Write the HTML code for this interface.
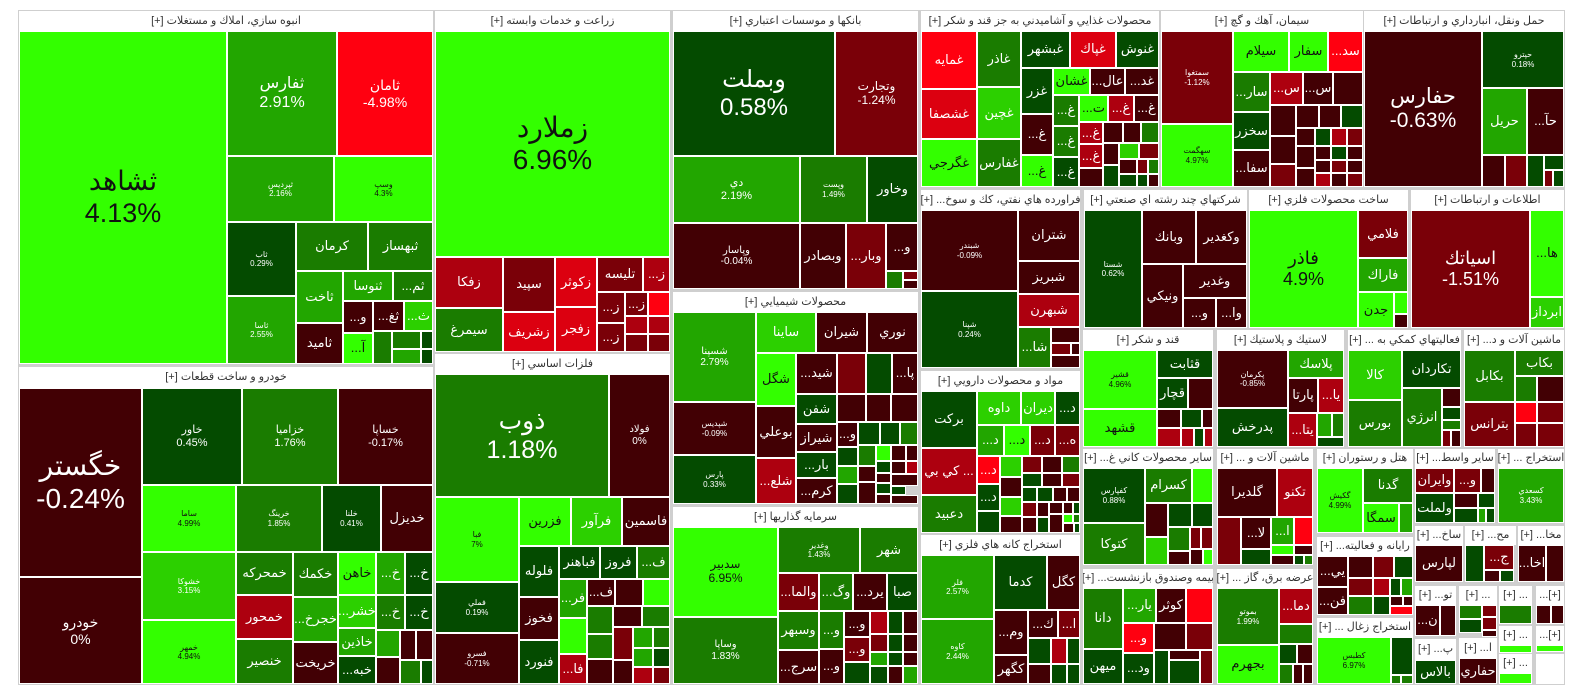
<!DOCTYPE html>
<html><head><meta charset="utf-8">
<style>
html,body{margin:0;padding:0;background:#fff;width:1584px;height:698px;overflow:hidden}
body{position:relative;font-family:"Liberation Sans","DejaVu Sans",sans-serif}
.bg{position:absolute;left:18px;top:10px;width:1547px;height:675px;background:#cfcfcf}
.c,.h{position:absolute;box-sizing:border-box;display:flex;align-items:center;justify-content:center;text-align:center;overflow:hidden;white-space:nowrap;line-height:1.15}
.c{border:1px solid #fff;color:#fff;font-size:13px}
.h{background:#fff;color:#333;font-size:11px;direction:rtl}
.g1{background:#33ff00;color:#111}.g2{background:#22a600}.g2b{background:#2cd000}.g3{background:#1a7c00}.g4{background:#044b00}
.r1{background:#420004}.r2{background:#7a0008}.r3{background:#ad000f}.r3b{background:#dc0010}.r4{background:#ff0010}
.s{font-size:8px}.m{font-size:10px}
</style></head><body>
<div class="bg"></div>

<!-- Sector 1 -->
<div class="h" style="left:19px;top:11px;width:414px;height:20px">انبوه سازي، املاك و مستغلات [+]</div>
<div class="c g1" style="left:19px;top:31px;width:208px;height:333px;font-size:27px">ثشاهد<br>4.13%</div>
<div class="c g2" style="left:227px;top:31px;width:110px;height:125px;font-size:16px">ثفارس<br>2.91%</div>
<div class="c r4" style="left:337px;top:31px;width:96px;height:125px;font-size:14px">ثامان<br>-4.98%</div>
<div class="c g2 s" style="left:227px;top:156px;width:107px;height:66px">ثپرديس<br>2.16%</div>
<div class="c g1 s" style="left:334px;top:156px;width:99px;height:66px">وسپ<br>4.3%</div>
<div class="c g4 s" style="left:227px;top:222px;width:69px;height:74px">ثاب<br>0.29%</div>
<div class="c g3" style="left:296px;top:222px;width:72px;height:49px">كرمان</div>
<div class="c g3" style="left:368px;top:222px;width:65px;height:49px">ثبهساز</div>
<div class="c g2" style="left:296px;top:271px;width:47px;height:52px">ثاخت</div>
<div class="c g2" style="left:343px;top:271px;width:50px;height:30px">ثنوسا</div>
<div class="c g3" style="left:393px;top:271px;width:40px;height:30px">...ثم</div>
<div class="c g2 s" style="left:227px;top:296px;width:69px;height:68px">ثاسا<br>2.55%</div>
<div class="c r1" style="left:296px;top:323px;width:47px;height:41px">ثاميد</div>
<div class="c r1" style="left:343px;top:301px;width:30px;height:32px">...و</div>
<div class="c r1" style="left:373px;top:301px;width:31px;height:30px">...ثغ</div>
<div class="c g2b" style="left:404px;top:301px;width:29px;height:30px">...ث</div>
<div class="c g1" style="left:343px;top:333px;width:30px;height:31px">...آ</div>
<div class="c g3" style="left:373px;top:331px;width:19px;height:33px"></div>
<div class="c g3" style="left:392px;top:331px;width:29px;height:18px"></div>
<div class="c g2" style="left:392px;top:349px;width:29px;height:15px"></div>
<div class="c g4" style="left:421px;top:331px;width:12px;height:18px"></div>
<div class="c g4" style="left:421px;top:349px;width:12px;height:15px"></div>

<!-- Sector 2 -->
<div class="h" style="left:19px;top:367px;width:414px;height:21px">خودرو و ساخت قطعات [+]</div>
<div class="c r1" style="left:19px;top:388px;width:123px;height:189px;font-size:28px">خگستر<br>-0.24%</div>
<div class="c r1" style="left:19px;top:577px;width:123px;height:107px;font-size:14px">خودرو<br>0%</div>
<div class="c g4" style="left:142px;top:388px;width:100px;height:97px;font-size:11px">خاور<br>0.45%</div>
<div class="c g3" style="left:242px;top:388px;width:96px;height:97px;font-size:11px">خزاميا<br>1.76%</div>
<div class="c r1" style="left:338px;top:388px;width:95px;height:97px;font-size:11px">خساپا<br>-0.17%</div>
<div class="c g1 s" style="left:142px;top:485px;width:94px;height:67px">ساما<br>4.99%</div>
<div class="c g3 s" style="left:236px;top:485px;width:86px;height:67px">خرينگ<br>1.85%</div>
<div class="c g4 s" style="left:322px;top:485px;width:59px;height:67px">خلنا<br>0.41%</div>
<div class="c r1" style="left:381px;top:485px;width:52px;height:67px">خديزل</div>
<div class="c g2b s" style="left:142px;top:552px;width:94px;height:68px">خشوكا<br>3.15%</div>
<div class="c g1 s" style="left:142px;top:620px;width:94px;height:64px">خمهر<br>4.94%</div>
<div class="c g3" style="left:236px;top:552px;width:57px;height:43px">خمحركه</div>
<div class="c g3" style="left:293px;top:552px;width:45px;height:45px">خكمك</div>
<div class="c g1" style="left:338px;top:552px;width:38px;height:43px">خاهن</div>
<div class="c g2" style="left:376px;top:552px;width:29px;height:43px">...خ</div>
<div class="c g4" style="left:405px;top:552px;width:28px;height:43px">...خ</div>
<div class="c r3" style="left:236px;top:595px;width:57px;height:44px">خمحور</div>
<div class="c g3" style="left:236px;top:639px;width:57px;height:45px">خنصير</div>
<div class="c g2" style="left:293px;top:597px;width:45px;height:45px">...خجرخ</div>
<div class="c r1" style="left:293px;top:642px;width:45px;height:42px">خريخت</div>
<div class="c g2b" style="left:338px;top:595px;width:38px;height:33px">...خشر</div>
<div class="c g3" style="left:376px;top:595px;width:29px;height:35px">...خ</div>
<div class="c g4" style="left:405px;top:595px;width:28px;height:35px">...خ</div>
<div class="c g2" style="left:338px;top:628px;width:38px;height:28px">خاذين</div>
<div class="c g4" style="left:338px;top:656px;width:38px;height:28px">...خبه</div>
<div class="c g2" style="left:376px;top:630px;width:24px;height:27px"></div>
<div class="c r1" style="left:400px;top:630px;width:16px;height:30px"></div>
<div class="c r1" style="left:416px;top:630px;width:17px;height:30px"></div>
<div class="c r1" style="left:376px;top:657px;width:24px;height:27px"></div>
<div class="c g3" style="left:400px;top:660px;width:21px;height:24px"></div>
<div class="c g4" style="left:421px;top:660px;width:12px;height:24px"></div>

<!-- Sector 3 -->
<div class="h" style="left:435px;top:11px;width:235px;height:20px">زراعت و خدمات وابسته [+]</div>
<div class="c g1" style="left:435px;top:31px;width:235px;height:226px;font-size:28px">زملارد<br>6.96%</div>
<div class="c r3" style="left:435px;top:257px;width:68px;height:51px">زفكا</div>
<div class="c g3" style="left:435px;top:308px;width:68px;height:44px">سيمرغ</div>
<div class="c r2" style="left:503px;top:257px;width:52px;height:55px">سپيد</div>
<div class="c r3b" style="left:503px;top:312px;width:52px;height:40px">زشريف</div>
<div class="c r3b" style="left:555px;top:257px;width:42px;height:50px">زكوثر</div>
<div class="c r3b" style="left:555px;top:307px;width:42px;height:45px">زفجر</div>
<div class="c r2" style="left:597px;top:257px;width:46px;height:35px">تليسه</div>
<div class="c r3" style="left:643px;top:257px;width:27px;height:35px">...ز</div>
<div class="c r2" style="left:597px;top:292px;width:28px;height:31px">...ز</div>
<div class="c r2" style="left:625px;top:292px;width:23px;height:24px">...ز</div>
<div class="c r4" style="left:648px;top:292px;width:22px;height:24px"></div>
<div class="c r2" style="left:597px;top:323px;width:28px;height:29px">...ز</div>
<div class="c r3" style="left:625px;top:316px;width:23px;height:18px"></div>
<div class="c r3" style="left:648px;top:316px;width:22px;height:18px"></div>
<div class="c r2" style="left:625px;top:334px;width:23px;height:18px"></div>
<div class="c r2" style="left:648px;top:334px;width:22px;height:18px"></div>

<!-- Sector 4 -->
<div class="h" style="left:435px;top:354px;width:235px;height:20px">فلزات اساسي [+]</div>
<div class="c g3" style="left:435px;top:374px;width:174px;height:123px;font-size:25px">ذوب<br>1.18%</div>
<div class="c r1 m" style="left:609px;top:374px;width:61px;height:123px">فولاد<br>0%</div>
<div class="c g1 s" style="left:435px;top:497px;width:84px;height:85px">فبا<br>7%</div>
<div class="c g1" style="left:519px;top:497px;width:52px;height:49px">فزرين</div>
<div class="c g2b" style="left:571px;top:497px;width:51px;height:49px">فرآور</div>
<div class="c r1" style="left:622px;top:497px;width:48px;height:49px">فاسمين</div>
<div class="c g4" style="left:519px;top:546px;width:40px;height:51px">فلوله</div>
<div class="c g4" style="left:559px;top:546px;width:41px;height:33px">فباهنر</div>
<div class="c g4" style="left:600px;top:546px;width:37px;height:33px">فروز</div>
<div class="c g3" style="left:637px;top:546px;width:33px;height:33px">...ف</div>
<div class="c g2" style="left:559px;top:579px;width:28px;height:39px">...فر</div>
<div class="c r1" style="left:587px;top:579px;width:28px;height:27px">...ف</div>
<div class="c r1" style="left:615px;top:579px;width:28px;height:27px"></div>
<div class="c g1" style="left:643px;top:579px;width:27px;height:27px"></div>
<div class="c g4 s" style="left:435px;top:582px;width:84px;height:51px">فملي<br>0.19%</div>
<div class="c r1 s" style="left:435px;top:633px;width:84px;height:51px">فسرو<br>-0.71%</div>
<div class="c r1" style="left:519px;top:597px;width:40px;height:43px">فخوز</div>
<div class="c g4" style="left:519px;top:640px;width:40px;height:44px">فنورد</div>
<div class="c g1" style="left:559px;top:618px;width:28px;height:36px"></div>
<div class="c r3" style="left:559px;top:654px;width:28px;height:30px">...فا</div>
<div class="c g3" style="left:587px;top:606px;width:26px;height:28px"></div>
<div class="c r1" style="left:613px;top:606px;width:29px;height:21px"></div>
<div class="c g3" style="left:642px;top:606px;width:28px;height:21px"></div>
<div class="c g3" style="left:587px;top:634px;width:26px;height:25px"></div>
<div class="c r1" style="left:587px;top:659px;width:26px;height:25px"></div>
<div class="c r2" style="left:613px;top:627px;width:20px;height:33px"></div>
<div class="c g2" style="left:633px;top:627px;width:20px;height:21px"></div>
<div class="c g3" style="left:653px;top:627px;width:17px;height:21px"></div>
<div class="c g2" style="left:633px;top:648px;width:20px;height:19px"></div>
<div class="c g4" style="left:653px;top:648px;width:17px;height:19px"></div>
<div class="c r3" style="left:633px;top:667px;width:20px;height:17px"></div>
<div class="c r2" style="left:653px;top:667px;width:17px;height:17px"></div>
<div class="c r1" style="left:613px;top:660px;width:20px;height:24px"></div>

<!-- Sector 5 -->
<div class="h" style="left:673px;top:11px;width:245px;height:20px">بانکها و موسسات اعتباري [+]</div>
<div class="c g4" style="left:673px;top:31px;width:162px;height:125px;font-size:24px">وبملت<br>0.58%</div>
<div class="c r2" style="left:835px;top:31px;width:83px;height:125px;font-size:12px">وتجارت<br>-1.24%</div>
<div class="c g2" style="left:673px;top:156px;width:127px;height:67px;font-size:11px">دي<br>2.19%</div>
<div class="c g3 s" style="left:800px;top:156px;width:67px;height:67px">وپست<br>1.49%</div>
<div class="c g4" style="left:867px;top:156px;width:51px;height:67px">وخاور</div>
<div class="c r1 m" style="left:673px;top:223px;width:127px;height:66px">وپاسار<br>-0.04%</div>
<div class="c r1" style="left:800px;top:223px;width:46px;height:66px">وبصادر</div>
<div class="c r2" style="left:846px;top:223px;width:40px;height:66px">...وبار</div>
<div class="c r1" style="left:886px;top:223px;width:32px;height:48px">...و</div>
<div class="c g3" style="left:886px;top:271px;width:17px;height:18px"></div>
<div class="c r2" style="left:903px;top:271px;width:15px;height:9px"></div>
<div class="c r1" style="left:903px;top:280px;width:15px;height:9px"></div>

<!-- Sector 6 -->
<div class="h" style="left:673px;top:292px;width:245px;height:20px">محصولات شيميايي [+]</div>
<div class="c g2 m" style="left:673px;top:312px;width:83px;height:90px">شسپنا<br>2.79%</div>
<div class="c r1 s" style="left:673px;top:402px;width:83px;height:53px">شپديس<br>-0.09%</div>
<div class="c g4 s" style="left:673px;top:455px;width:83px;height:49px">پارس<br>0.33%</div>
<div class="c g2b" style="left:756px;top:312px;width:60px;height:41px">ساينا</div>
<div class="c r1" style="left:816px;top:312px;width:51px;height:41px">شيران</div>
<div class="c r1" style="left:867px;top:312px;width:51px;height:41px">نوري</div>
<div class="c g1" style="left:756px;top:353px;width:40px;height:53px">شگل</div>
<div class="c r1" style="left:796px;top:353px;width:41px;height:41px">...شيد</div>
<div class="c r2" style="left:837px;top:353px;width:29px;height:41px"></div>
<div class="c g4" style="left:866px;top:353px;width:26px;height:41px"></div>
<div class="c r1" style="left:892px;top:353px;width:26px;height:41px">...پا</div>
<div class="c g4" style="left:796px;top:394px;width:41px;height:30px">شفن</div>
<div class="c r1" style="left:837px;top:394px;width:29px;height:28px"></div>
<div class="c r1" style="left:866px;top:394px;width:25px;height:28px"></div>
<div class="c r1" style="left:891px;top:394px;width:27px;height:28px"></div>
<div class="c r1" style="left:756px;top:406px;width:40px;height:52px">بوعلي</div>
<div class="c r3" style="left:756px;top:458px;width:40px;height:46px">...شلع</div>
<div class="c r1" style="left:796px;top:424px;width:41px;height:28px">شيراز</div>
<div class="c r1" style="left:837px;top:422px;width:21px;height:25px">...و</div>
<div class="c g4" style="left:858px;top:422px;width:22px;height:23px"></div>
<div class="c g4" style="left:880px;top:422px;width:20px;height:23px"></div>
<div class="c g3" style="left:900px;top:422px;width:18px;height:23px"></div>
<div class="c g4" style="left:796px;top:452px;width:41px;height:26px">...بار</div>
<div class="c r1" style="left:796px;top:478px;width:41px;height:26px">...كرم</div>
<div class="c g4" style="left:837px;top:447px;width:21px;height:19px"></div>
<div class="c g2" style="left:837px;top:466px;width:21px;height:18px"></div>
<div class="c g4" style="left:837px;top:484px;width:21px;height:20px"></div>
<div class="c g3" style="left:858px;top:445px;width:18px;height:21px"></div>
<div class="c g1" style="left:876px;top:445px;width:15px;height:16px"></div>
<div class="c r1" style="left:891px;top:445px;width:15px;height:16px"></div>
<div class="c r1" style="left:906px;top:445px;width:12px;height:16px"></div>
<div class="c r1" style="left:858px;top:466px;width:18px;height:16px"></div>
<div class="c r1" style="left:858px;top:482px;width:18px;height:22px"></div>
<div class="c g4" style="left:876px;top:461px;width:15px;height:12px"></div>
<div class="c r1" style="left:876px;top:473px;width:15px;height:10px"></div>
<div class="c g4" style="left:876px;top:483px;width:15px;height:11px"></div>
<div class="c r1" style="left:876px;top:494px;width:15px;height:10px"></div>
<div class="c r1" style="left:891px;top:461px;width:15px;height:13px"></div>
<div class="c r3" style="left:906px;top:461px;width:12px;height:13px"></div>
<div class="c r1" style="left:891px;top:474px;width:27px;height:12px"></div>
<div class="c g4" style="left:891px;top:486px;width:15px;height:9px"></div>
<div class="c r1" style="left:891px;top:495px;width:27px;height:9px"></div>

<!-- Sector 7 -->
<div class="h" style="left:673px;top:507px;width:245px;height:20px">سرمايه گذاريها [+]</div>
<div class="c g1" style="left:673px;top:527px;width:105px;height:90px;font-size:12px">سدبير<br>6.95%</div>
<div class="c g3 m" style="left:673px;top:617px;width:105px;height:67px">وساپا<br>1.83%</div>
<div class="c g3 s" style="left:778px;top:527px;width:82px;height:46px">وغدير<br>1.43%</div>
<div class="c g3" style="left:860px;top:527px;width:58px;height:46px">شهر</div>
<div class="c r2" style="left:778px;top:573px;width:41px;height:38px">...والما</div>
<div class="c g3" style="left:819px;top:573px;width:34px;height:38px">...وگ</div>
<div class="c r1" style="left:853px;top:573px;width:34px;height:38px">...يرد</div>
<div class="c g4" style="left:887px;top:573px;width:31px;height:38px">صبا</div>
<div class="c g3" style="left:778px;top:611px;width:41px;height:39px">وسبهر</div>
<div class="c r1" style="left:778px;top:650px;width:41px;height:34px">...سرج</div>
<div class="c g3" style="left:819px;top:611px;width:25px;height:38px">...و</div>
<div class="c r1" style="left:819px;top:649px;width:25px;height:35px">...و</div>
<div class="c r1" style="left:844px;top:611px;width:26px;height:26px">...و</div>
<div class="c r2" style="left:844px;top:637px;width:26px;height:25px">...و</div>
<div class="c g4" style="left:844px;top:662px;width:26px;height:22px"></div>
<div class="c r3" style="left:870px;top:611px;width:18px;height:23px"></div>
<div class="c g4" style="left:888px;top:611px;width:15px;height:23px"></div>
<div class="c r1" style="left:903px;top:611px;width:15px;height:23px"></div>
<div class="c r2" style="left:870px;top:634px;width:18px;height:18px"></div>
<div class="c g4" style="left:888px;top:634px;width:15px;height:18px"></div>
<div class="c r1" style="left:903px;top:634px;width:15px;height:18px"></div>
<div class="c g2" style="left:870px;top:652px;width:18px;height:14px"></div>
<div class="c g4" style="left:888px;top:652px;width:15px;height:14px"></div>
<div class="c r1" style="left:903px;top:652px;width:15px;height:14px"></div>
<div class="c g4" style="left:870px;top:666px;width:18px;height:18px"></div>
<div class="c r1" style="left:888px;top:666px;width:15px;height:18px"></div>
<div class="c g2" style="left:903px;top:666px;width:15px;height:18px"></div>

<!-- Food -->
<div class="h" style="left:921px;top:11px;width:238px;height:20px">محصولات غذايي و آشاميدني به جز قند و شكر [+]</div>
<div class="c r4" style="left:921px;top:31px;width:56px;height:58px">غمايه</div>
<div class="c r3b" style="left:921px;top:89px;width:56px;height:50px">غشصفا</div>
<div class="c g1" style="left:921px;top:139px;width:56px;height:48px">غگرجي</div>
<div class="c g3" style="left:977px;top:31px;width:44px;height:56px">غاذر</div>
<div class="c g2b" style="left:977px;top:87px;width:44px;height:52px">غچين</div>
<div class="c g3" style="left:977px;top:139px;width:44px;height:48px">غفارس</div>
<div class="c g4" style="left:1021px;top:31px;width:49px;height:37px">غبشهر</div>
<div class="c r3b" style="left:1070px;top:31px;width:46px;height:37px">غپاك</div>
<div class="c g4" style="left:1116px;top:31px;width:43px;height:37px">غنوش</div>
<div class="c g4" style="left:1021px;top:68px;width:32px;height:46px">غزر</div>
<div class="c r1" style="left:1021px;top:114px;width:32px;height:41px">...غ</div>
<div class="c g1" style="left:1021px;top:155px;width:32px;height:32px">...غ</div>
<div class="c g1" style="left:1053px;top:68px;width:37px;height:27px">غشان</div>
<div class="c r1" style="left:1090px;top:68px;width:35px;height:27px">...عال</div>
<div class="c r1" style="left:1125px;top:68px;width:34px;height:27px">...غد</div>
<div class="c g3" style="left:1053px;top:95px;width:26px;height:31px">...غ</div>
<div class="c g1" style="left:1079px;top:95px;width:29px;height:27px">...ت</div>
<div class="c r3" style="left:1108px;top:95px;width:26px;height:27px">...غ</div>
<div class="c r1" style="left:1134px;top:95px;width:25px;height:27px">...غ</div>
<div class="c g3" style="left:1053px;top:126px;width:26px;height:31px">...غ</div>
<div class="c g4" style="left:1053px;top:157px;width:26px;height:30px">...غ</div>
<div class="c r3" style="left:1079px;top:122px;width:24px;height:22px">...غ</div>
<div class="c r1" style="left:1103px;top:122px;width:20px;height:21px"></div>
<div class="c r1" style="left:1123px;top:122px;width:18px;height:21px"></div>
<div class="c g3" style="left:1141px;top:122px;width:18px;height:21px"></div>
<div class="c r3" style="left:1079px;top:144px;width:24px;height:24px">...غ</div>
<div class="c r1" style="left:1103px;top:143px;width:16px;height:22px"></div>
<div class="c g2b" style="left:1119px;top:143px;width:20px;height:16px"></div>
<div class="c r2" style="left:1139px;top:143px;width:20px;height:16px"></div>
<div class="c r1" style="left:1119px;top:159px;width:18px;height:15px"></div>
<div class="c r2" style="left:1137px;top:159px;width:11px;height:15px"></div>
<div class="c g3" style="left:1148px;top:159px;width:11px;height:15px"></div>
<div class="c r1" style="left:1079px;top:168px;width:24px;height:19px"></div>
<div class="c g4" style="left:1103px;top:165px;width:16px;height:22px"></div>
<div class="c g4" style="left:1119px;top:174px;width:18px;height:13px"></div>
<div class="c g4" style="left:1137px;top:174px;width:11px;height:13px"></div>
<div class="c r1" style="left:1148px;top:174px;width:11px;height:13px"></div>

<!-- Cement -->
<div class="h" style="left:1161px;top:11px;width:202px;height:20px">سيمان، آهك و گچ [+]</div>
<div class="c r2 s" style="left:1161px;top:31px;width:72px;height:93px">سمتغوا<br>-1.12%</div>
<div class="c g1 s" style="left:1161px;top:124px;width:72px;height:63px">سهگمت<br>4.97%</div>
<div class="c g1" style="left:1233px;top:31px;width:56px;height:41px">سيلام</div>
<div class="c g1" style="left:1289px;top:31px;width:39px;height:41px">سفار</div>
<div class="c r4" style="left:1328px;top:31px;width:35px;height:41px">...سد</div>
<div class="c g3" style="left:1233px;top:72px;width:37px;height:40px">...سار</div>
<div class="c r3" style="left:1270px;top:72px;width:33px;height:33px">...س</div>
<div class="c r1" style="left:1303px;top:72px;width:30px;height:33px">...س</div>
<div class="c r1" style="left:1333px;top:72px;width:30px;height:33px"></div>
<div class="c g4" style="left:1233px;top:112px;width:37px;height:38px">سخزر</div>
<div class="c r1" style="left:1233px;top:150px;width:37px;height:37px">...سفا</div>
<div class="c r1" style="left:1270px;top:105px;width:26px;height:31px"></div>
<div class="c r1" style="left:1296px;top:105px;width:23px;height:23px"></div>
<div class="c r1" style="left:1319px;top:105px;width:22px;height:23px"></div>
<div class="c g4" style="left:1341px;top:105px;width:22px;height:23px"></div>
<div class="c r1" style="left:1270px;top:136px;width:26px;height:28px"></div>
<div class="c r1" style="left:1296px;top:128px;width:19px;height:18px"></div>
<div class="c g4" style="left:1315px;top:128px;width:16px;height:18px"></div>
<div class="c r3" style="left:1331px;top:128px;width:16px;height:18px"></div>
<div class="c r2" style="left:1347px;top:128px;width:16px;height:18px"></div>
<div class="c r2" style="left:1270px;top:164px;width:26px;height:23px"></div>
<div class="c r1" style="left:1296px;top:146px;width:19px;height:22px"></div>
<div class="c r1" style="left:1315px;top:146px;width:16px;height:14px"></div>
<div class="c g4" style="left:1331px;top:146px;width:16px;height:14px"></div>
<div class="c r1" style="left:1347px;top:146px;width:16px;height:14px"></div>
<div class="c r1" style="left:1296px;top:168px;width:19px;height:19px"></div>
<div class="c r1" style="left:1315px;top:160px;width:16px;height:13px"></div>
<div class="c r2" style="left:1331px;top:160px;width:16px;height:13px"></div>
<div class="c r1" style="left:1347px;top:160px;width:16px;height:13px"></div>
<div class="c r3" style="left:1315px;top:173px;width:16px;height:14px"></div>
<div class="c r1" style="left:1331px;top:173px;width:16px;height:14px"></div>
<div class="c r2" style="left:1347px;top:173px;width:16px;height:14px"></div>

<!-- Transport -->
<div class="h" style="left:1364px;top:11px;width:200px;height:20px">حمل ونقل، انبارداري و ارتباطات [+]</div>
<div class="c r1" style="left:1364px;top:31px;width:118px;height:156px;font-size:21px">حفارس<br>-0.63%</div>
<div class="c g4 s" style="left:1482px;top:31px;width:82px;height:57px">حپترو<br>0.18%</div>
<div class="c g2" style="left:1482px;top:88px;width:45px;height:67px">حريل</div>
<div class="c r1" style="left:1527px;top:88px;width:37px;height:67px">...حآ</div>
<div class="c r1" style="left:1482px;top:155px;width:23px;height:32px"></div>
<div class="c r2" style="left:1505px;top:155px;width:22px;height:32px"></div>
<div class="c g4" style="left:1527px;top:155px;width:17px;height:32px"></div>
<div class="c g4" style="left:1544px;top:155px;width:20px;height:15px"></div>
<div class="c r2" style="left:1544px;top:170px;width:9px;height:17px"></div>
<div class="c g4" style="left:1553px;top:170px;width:11px;height:17px"></div>

<!-- Oil -->
<div class="h" style="left:921px;top:190px;width:159px;height:20px">فراورده هاي نفتي، كك و سوخ... [+]</div>
<div class="c r1 s" style="left:921px;top:210px;width:97px;height:81px">شبندر<br>-0.09%</div>
<div class="c g4 s" style="left:921px;top:291px;width:97px;height:77px">شپنا<br>0.24%</div>
<div class="c r1" style="left:1018px;top:210px;width:62px;height:51px">شتران</div>
<div class="c r1" style="left:1018px;top:261px;width:62px;height:33px">شبريز</div>
<div class="c r3" style="left:1018px;top:294px;width:62px;height:33px">شبهرن</div>
<div class="c g3" style="left:1018px;top:327px;width:33px;height:41px">...شا</div>
<div class="c r1" style="left:1051px;top:327px;width:29px;height:16px"></div>
<div class="c r2" style="left:1051px;top:343px;width:20px;height:12px"></div>
<div class="c r1" style="left:1071px;top:343px;width:9px;height:12px"></div>
<div class="c r1" style="left:1051px;top:355px;width:29px;height:13px"></div>

<!-- Multi -->
<div class="h" style="left:1084px;top:190px;width:163px;height:20px">شركتهاي چند رشته اي صنعتي [+]</div>
<div class="c g4 s" style="left:1084px;top:210px;width:58px;height:118px">شستا<br>0.62%</div>
<div class="c r1" style="left:1142px;top:210px;width:54px;height:54px">وبانك</div>
<div class="c r1" style="left:1196px;top:210px;width:51px;height:54px">وكغدير</div>
<div class="c r1" style="left:1142px;top:264px;width:41px;height:64px">ونيكي</div>
<div class="c r1" style="left:1183px;top:264px;width:64px;height:34px">وغدير</div>
<div class="c r1" style="left:1183px;top:298px;width:33px;height:30px">...و</div>
<div class="c r1" style="left:1216px;top:298px;width:31px;height:30px">...وا</div>

<!-- Metal products -->
<div class="h" style="left:1249px;top:190px;width:159px;height:20px">ساخت محصولات فلزي [+]</div>
<div class="c g1" style="left:1249px;top:210px;width:109px;height:118px;font-size:18px">فاذر<br>4.9%</div>
<div class="c r2" style="left:1358px;top:210px;width:50px;height:48px">فلامي</div>
<div class="c g2" style="left:1358px;top:258px;width:50px;height:34px">فاراك</div>
<div class="c g1" style="left:1358px;top:292px;width:36px;height:36px">جدن</div>
<div class="c g1" style="left:1394px;top:292px;width:14px;height:22px"></div>
<div class="c r1" style="left:1394px;top:314px;width:14px;height:14px"></div>

<!-- IT -->
<div class="h" style="left:1411px;top:190px;width:153px;height:20px">اطلاعات و ارتباطات [+]</div>
<div class="c r2" style="left:1411px;top:210px;width:119px;height:118px;font-size:18px">اسياتك<br>-1.51%</div>
<div class="c g1" style="left:1530px;top:210px;width:34px;height:87px">...ها</div>
<div class="c g2b" style="left:1530px;top:297px;width:34px;height:31px">ابرداز</div>

<!-- Pharma -->
<div class="h" style="left:921px;top:371px;width:159px;height:20px">مواد و محصولات دارويي [+]</div>
<div class="c g4" style="left:921px;top:391px;width:56px;height:57px">بركت</div>
<div class="c r3" style="left:921px;top:448px;width:56px;height:47px">كي بي ...</div>
<div class="c g3" style="left:921px;top:495px;width:56px;height:38px">دعبيد</div>
<div class="c g2b" style="left:977px;top:391px;width:44px;height:34px">داوه</div>
<div class="c g2b" style="left:1021px;top:391px;width:34px;height:34px">ديران</div>
<div class="c g4" style="left:1055px;top:391px;width:25px;height:34px">...د</div>
<div class="c g2" style="left:977px;top:425px;width:27px;height:31px">...د</div>
<div class="c g1" style="left:1004px;top:425px;width:26px;height:31px">...د</div>
<div class="c r2" style="left:1030px;top:425px;width:25px;height:31px">...د</div>
<div class="c r2" style="left:1055px;top:425px;width:25px;height:31px">...ه</div>
<div class="c r4" style="left:977px;top:456px;width:23px;height:28px">...د</div>
<div class="c g2b" style="left:1000px;top:456px;width:22px;height:21px"></div>
<div class="c g4" style="left:977px;top:484px;width:23px;height:27px">...د</div>
<div class="c g4" style="left:977px;top:511px;width:23px;height:22px"></div>
<div class="c r1" style="left:1000px;top:477px;width:22px;height:20px"></div>
<div class="c g2b" style="left:1000px;top:497px;width:22px;height:19px"></div>
<div class="c r1" style="left:1000px;top:516px;width:22px;height:17px"></div>
<div class="c r2" style="left:1022px;top:456px;width:20px;height:17px"></div>
<div class="c r1" style="left:1042px;top:456px;width:20px;height:17px"></div>
<div class="c g3" style="left:1062px;top:456px;width:18px;height:17px"></div>
<div class="c g4" style="left:1022px;top:473px;width:20px;height:14px"></div>
<div class="c r1" style="left:1042px;top:473px;width:20px;height:14px"></div>
<div class="c r2" style="left:1062px;top:473px;width:18px;height:14px"></div>
<div class="c g4" style="left:1022px;top:487px;width:15px;height:15px"></div>
<div class="c g4" style="left:1037px;top:487px;width:16px;height:15px"></div>
<div class="c r1" style="left:1053px;top:487px;width:14px;height:15px"></div>
<div class="c r1" style="left:1067px;top:487px;width:13px;height:15px"></div>
<div class="c r2" style="left:1022px;top:502px;width:15px;height:15px"></div>
<div class="c r1" style="left:1037px;top:502px;width:12px;height:15px"></div>
<div class="c r1" style="left:1049px;top:502px;width:14px;height:12px"></div>
<div class="c r1" style="left:1063px;top:502px;width:10px;height:12px"></div>
<div class="c g4" style="left:1073px;top:502px;width:7px;height:12px"></div>
<div class="c r1" style="left:1022px;top:517px;width:15px;height:16px"></div>
<div class="c g4" style="left:1037px;top:517px;width:12px;height:16px"></div>
<div class="c r1" style="left:1049px;top:514px;width:14px;height:19px"></div>
<div class="c g1" style="left:1063px;top:514px;width:10px;height:9px"></div>
<div class="c g3" style="left:1073px;top:514px;width:7px;height:9px"></div>
<div class="c r1" style="left:1063px;top:523px;width:11px;height:10px"></div>
<div class="c g4" style="left:1074px;top:523px;width:6px;height:10px"></div>

<!-- Mining -->
<div class="h" style="left:921px;top:535px;width:159px;height:20px">استخراج كانه هاي فلزي [+]</div>
<div class="c g2 s" style="left:921px;top:555px;width:73px;height:64px">فلر<br>2.57%</div>
<div class="c g2 s" style="left:921px;top:619px;width:73px;height:65px">كاوه<br>2.44%</div>
<div class="c g4" style="left:994px;top:555px;width:53px;height:55px">كدما</div>
<div class="c r1" style="left:1047px;top:555px;width:33px;height:55px">كگل</div>
<div class="c r1" style="left:994px;top:610px;width:34px;height:45px">...وم</div>
<div class="c r1" style="left:994px;top:655px;width:34px;height:29px">كگهر</div>
<div class="c r1" style="left:1028px;top:610px;width:30px;height:28px">...ك</div>
<div class="c r2" style="left:1058px;top:610px;width:22px;height:28px">...ا</div>
<div class="c g4" style="left:1028px;top:638px;width:23px;height:26px"></div>
<div class="c r3" style="left:1051px;top:638px;width:16px;height:26px"></div>
<div class="c g4" style="left:1067px;top:638px;width:13px;height:26px"></div>
<div class="c r1" style="left:1028px;top:664px;width:23px;height:20px"></div>
<div class="c g4" style="left:1051px;top:664px;width:16px;height:20px"></div>
<div class="c g4" style="left:1067px;top:664px;width:13px;height:20px"></div>

<!-- Sugar -->
<div class="h" style="left:1083px;top:330px;width:130px;height:20px">قند و شكر [+]</div>
<div class="c g1 s" style="left:1083px;top:350px;width:74px;height:59px">قشير<br>4.96%</div>
<div class="c g1" style="left:1083px;top:409px;width:74px;height:38px">قشهد</div>
<div class="c g4" style="left:1157px;top:350px;width:56px;height:28px">قثابت</div>
<div class="c g4" style="left:1157px;top:378px;width:31px;height:31px">قچار</div>
<div class="c r1" style="left:1188px;top:378px;width:25px;height:31px"></div>
<div class="c r1" style="left:1157px;top:409px;width:24px;height:19px"></div>
<div class="c g4" style="left:1181px;top:409px;width:21px;height:19px"></div>
<div class="c r1" style="left:1202px;top:409px;width:11px;height:19px"></div>
<div class="c r3" style="left:1157px;top:428px;width:24px;height:19px"></div>
<div class="c r3" style="left:1181px;top:428px;width:13px;height:19px"></div>
<div class="c g4" style="left:1194px;top:428px;width:10px;height:19px"></div>
<div class="c r3" style="left:1204px;top:428px;width:9px;height:19px"></div>

<!-- Rubber -->
<div class="h" style="left:1217px;top:330px;width:127px;height:20px">لاستيك و پلاستيك [+]</div>
<div class="c r1 s" style="left:1217px;top:350px;width:71px;height:58px">پكرمان<br>-0.85%</div>
<div class="c g4" style="left:1217px;top:408px;width:71px;height:39px">پدرخش</div>
<div class="c g2" style="left:1288px;top:350px;width:56px;height:28px">پلاسك</div>
<div class="c r1" style="left:1288px;top:378px;width:30px;height:35px">پارتا</div>
<div class="c r3" style="left:1318px;top:378px;width:26px;height:35px">...يا</div>
<div class="c r3" style="left:1288px;top:413px;width:29px;height:34px">...يتا</div>
<div class="c g2" style="left:1317px;top:413px;width:15px;height:24px"></div>
<div class="c g3" style="left:1332px;top:413px;width:12px;height:24px"></div>
<div class="c g4" style="left:1317px;top:437px;width:27px;height:10px"></div>

<!-- Support -->
<div class="h" style="left:1348px;top:330px;width:113px;height:20px">فعاليتهاي كمكي به ... [+]</div>
<div class="c g2b" style="left:1348px;top:350px;width:54px;height:50px">كالا</div>
<div class="c g3" style="left:1348px;top:400px;width:54px;height:47px">بورس</div>
<div class="c g4" style="left:1402px;top:350px;width:59px;height:38px">تكاردان</div>
<div class="c g3" style="left:1402px;top:388px;width:40px;height:59px">انرژي</div>
<div class="c r1" style="left:1442px;top:388px;width:19px;height:19px"></div>
<div class="c g4" style="left:1442px;top:407px;width:19px;height:13px"></div>
<div class="c g3" style="left:1442px;top:420px;width:19px;height:10px"></div>
<div class="c r2" style="left:1442px;top:430px;width:9px;height:17px"></div>
<div class="c r1" style="left:1451px;top:430px;width:10px;height:17px"></div>

<!-- Machinery -->
<div class="h" style="left:1464px;top:330px;width:100px;height:20px">ماشين آلات و د... [+]</div>
<div class="c g3" style="left:1464px;top:350px;width:51px;height:52px">بكابل</div>
<div class="c g3" style="left:1515px;top:350px;width:49px;height:26px">بكاب</div>
<div class="c g3" style="left:1515px;top:376px;width:22px;height:26px"></div>
<div class="c r1" style="left:1537px;top:376px;width:27px;height:26px"></div>
<div class="c r2" style="left:1464px;top:402px;width:51px;height:45px">بترانس</div>
<div class="c r4" style="left:1515px;top:402px;width:22px;height:21px"></div>
<div class="c r2" style="left:1537px;top:402px;width:27px;height:21px"></div>
<div class="c r2" style="left:1515px;top:423px;width:22px;height:24px"></div>
<div class="c r2" style="left:1537px;top:423px;width:27px;height:24px"></div>

<!-- Other non-metal -->
<div class="h" style="left:1083px;top:449px;width:130px;height:19px">ساير محصولات كاني غ... [+]</div>
<div class="c g4 s" style="left:1083px;top:468px;width:62px;height:55px">كفپارس<br>0.88%</div>
<div class="c g3" style="left:1083px;top:523px;width:62px;height:42px">كتوكا</div>
<div class="c g3" style="left:1145px;top:468px;width:47px;height:35px">كسرام</div>
<div class="c g1" style="left:1192px;top:468px;width:21px;height:35px"></div>
<div class="c r1" style="left:1145px;top:503px;width:23px;height:34px"></div>
<div class="c g4" style="left:1168px;top:503px;width:24px;height:24px"></div>
<div class="c g4" style="left:1192px;top:503px;width:21px;height:24px"></div>
<div class="c g2b" style="left:1145px;top:537px;width:23px;height:28px"></div>
<div class="c g3" style="left:1168px;top:527px;width:22px;height:24px"></div>
<div class="c r2" style="left:1190px;top:527px;width:11px;height:22px"></div>
<div class="c r2" style="left:1201px;top:527px;width:12px;height:22px"></div>
<div class="c r1" style="left:1168px;top:551px;width:22px;height:14px"></div>
<div class="c r1" style="left:1190px;top:549px;width:13px;height:16px"></div>
<div class="c g1" style="left:1203px;top:549px;width:10px;height:16px"></div>

<!-- Machinery 2 -->
<div class="h" style="left:1217px;top:449px;width:96px;height:19px">ماشين آلات و ... [+]</div>
<div class="c r1" style="left:1217px;top:468px;width:60px;height:49px">گلديرا</div>
<div class="c r3" style="left:1277px;top:468px;width:36px;height:49px">تكنو</div>
<div class="c r2" style="left:1217px;top:517px;width:24px;height:48px"></div>
<div class="c r1" style="left:1241px;top:517px;width:30px;height:32px">...لا</div>
<div class="c g2" style="left:1271px;top:517px;width:23px;height:28px">...ا</div>
<div class="c r4" style="left:1294px;top:517px;width:19px;height:28px"></div>
<div class="c g4" style="left:1241px;top:549px;width:30px;height:16px"></div>
<div class="c g1" style="left:1271px;top:545px;width:23px;height:10px"></div>
<div class="c r1" style="left:1294px;top:545px;width:19px;height:10px"></div>
<div class="c r1" style="left:1271px;top:555px;width:23px;height:10px"></div>
<div class="c g4" style="left:1294px;top:555px;width:10px;height:10px"></div>
<div class="c g3" style="left:1304px;top:555px;width:9px;height:10px"></div>

<!-- Hotel -->
<div class="h" style="left:1317px;top:449px;width:96px;height:19px">هتل و رستوران [+]</div>
<div class="c g1 s" style="left:1317px;top:468px;width:46px;height:65px">گكيش<br>4.99%</div>
<div class="c g3" style="left:1363px;top:468px;width:50px;height:35px">گدنا</div>
<div class="c g1" style="left:1363px;top:503px;width:36px;height:30px">سمگا</div>
<div class="c g2" style="left:1399px;top:503px;width:14px;height:30px"></div>

<!-- Computer -->
<div class="h" style="left:1317px;top:537px;width:96px;height:19px">رايانه و فعاليته... [+]</div>
<div class="c r1" style="left:1317px;top:556px;width:31px;height:31px">...يي</div>
<div class="c r1" style="left:1317px;top:587px;width:31px;height:28px">...فن</div>
<div class="c r1" style="left:1348px;top:556px;width:25px;height:22px"></div>
<div class="c r2" style="left:1373px;top:556px;width:21px;height:22px"></div>
<div class="c g4" style="left:1394px;top:556px;width:19px;height:22px"></div>
<div class="c r2" style="left:1348px;top:578px;width:25px;height:18px"></div>
<div class="c r3" style="left:1373px;top:578px;width:17px;height:18px"></div>
<div class="c g4" style="left:1390px;top:578px;width:11px;height:18px"></div>
<div class="c g2" style="left:1401px;top:578px;width:12px;height:18px"></div>
<div class="c g3" style="left:1348px;top:596px;width:25px;height:19px"></div>
<div class="c g4" style="left:1373px;top:596px;width:17px;height:19px"></div>
<div class="c r1" style="left:1390px;top:596px;width:13px;height:10px"></div>
<div class="c r1" style="left:1403px;top:596px;width:10px;height:10px"></div>
<div class="c r4" style="left:1390px;top:606px;width:23px;height:9px"></div>

<!-- Coal -->
<div class="h" style="left:1317px;top:618px;width:96px;height:19px">استخراج زغال ... [+]</div>
<div class="c g1 s" style="left:1317px;top:637px;width:74px;height:47px">كطبس<br>6.97%</div>
<div class="c g4" style="left:1391px;top:637px;width:22px;height:38px"></div>
<div class="c g3" style="left:1391px;top:675px;width:10px;height:9px"></div>
<div class="c g3" style="left:1401px;top:675px;width:12px;height:9px"></div>

<!-- Misc right -->
<div class="h" style="left:1415px;top:449px;width:80px;height:19px">ساير واسط... [+]</div>
<div class="c r2" style="left:1415px;top:468px;width:39px;height:25px">وايران</div>
<div class="c r2" style="left:1454px;top:468px;width:27px;height:25px">...و</div>
<div class="c r1" style="left:1481px;top:468px;width:14px;height:25px"></div>
<div class="c g4" style="left:1415px;top:493px;width:39px;height:30px">ولملت</div>
<div class="c r1" style="left:1454px;top:493px;width:24px;height:15px"></div>
<div class="c g4" style="left:1478px;top:493px;width:17px;height:15px"></div>
<div class="c g4" style="left:1454px;top:508px;width:24px;height:15px"></div>
<div class="c g2" style="left:1478px;top:508px;width:8px;height:15px"></div>
<div class="c g4" style="left:1486px;top:508px;width:9px;height:15px"></div>

<div class="h" style="left:1498px;top:449px;width:66px;height:19px">استخراج ... [+]</div>
<div class="c g2 s" style="left:1498px;top:468px;width:66px;height:55px">كسعدي<br>3.43%</div>

<div class="h" style="left:1415px;top:526px;width:48px;height:19px">ساخ... [+]</div>
<div class="c r1" style="left:1415px;top:545px;width:48px;height:37px">لپارس</div>
<div class="h" style="left:1465px;top:526px;width:51px;height:19px">مح... [+]</div>
<div class="c g4" style="left:1465px;top:545px;width:19px;height:37px"></div>
<div class="c r2" style="left:1484px;top:545px;width:30px;height:25px">...ج</div>
<div class="c r1" style="left:1484px;top:570px;width:16px;height:12px"></div>
<div class="c g4" style="left:1500px;top:570px;width:14px;height:12px"></div>
<div class="h" style="left:1518px;top:526px;width:46px;height:19px">مخا... [+]</div>
<div class="c r1" style="left:1518px;top:545px;width:28px;height:37px">...اخا</div>
<div class="c r1" style="left:1546px;top:545px;width:18px;height:37px"></div>

<div class="h" style="left:1415px;top:586px;width:41px;height:19px">تو... [+]</div>
<div class="c r1" style="left:1415px;top:605px;width:25px;height:31px">...ن</div>
<div class="c r1" style="left:1440px;top:605px;width:16px;height:31px"></div>
<div class="h" style="left:1459px;top:586px;width:38px;height:19px">... [+]</div>
<div class="c g3" style="left:1459px;top:605px;width:23px;height:14px"></div>
<div class="c r2" style="left:1482px;top:605px;width:15px;height:12px"></div>
<div class="c g4" style="left:1459px;top:619px;width:23px;height:14px"></div>
<div class="c r2" style="left:1482px;top:617px;width:15px;height:13px"></div>
<div class="c r1" style="left:1482px;top:630px;width:15px;height:7px"></div>
<div class="h" style="left:1499px;top:586px;width:33px;height:19px">... [+]</div>
<div class="c g3" style="left:1499px;top:605px;width:33px;height:19px"></div>
<div class="h" style="left:1536px;top:586px;width:28px;height:19px">[+]...</div>
<div class="c r1" style="left:1536px;top:605px;width:15px;height:19px"></div>
<div class="c r1" style="left:1551px;top:605px;width:13px;height:19px"></div>
<div class="h" style="left:1415px;top:639px;width:41px;height:21px">پ... [+]</div>
<div class="c g4" style="left:1415px;top:660px;width:41px;height:24px">بالاس</div>
<div class="h" style="left:1459px;top:638px;width:38px;height:20px">ا... [+]</div>
<div class="c r1" style="left:1459px;top:658px;width:38px;height:26px">حفاري</div>
<div class="h" style="left:1499px;top:626px;width:33px;height:19px">... [+]</div>
<div class="c g1" style="left:1499px;top:645px;width:33px;height:8px"></div>
<div class="h" style="left:1536px;top:626px;width:28px;height:19px">[+]...</div>
<div class="c g1" style="left:1536px;top:645px;width:28px;height:7px"></div>
<div class="h" style="left:1499px;top:654px;width:33px;height:19px">... [+]</div>
<div class="c g1" style="left:1499px;top:673px;width:33px;height:11px"></div>
<div class="h" style="left:1536px;top:654px;width:28px;height:30px"></div>

<!-- Insurance -->
<div class="h" style="left:1083px;top:569px;width:130px;height:19px">بيمه وصندوق بازنشست... [+]</div>
<div class="c g3" style="left:1083px;top:588px;width:40px;height:61px">دانا</div>
<div class="c g4" style="left:1083px;top:649px;width:40px;height:35px">ميهن</div>
<div class="c g2" style="left:1123px;top:588px;width:33px;height:35px">...يار</div>
<div class="c r1" style="left:1156px;top:588px;width:30px;height:35px">كوثر</div>
<div class="c r4" style="left:1186px;top:588px;width:27px;height:35px"></div>
<div class="c r4" style="left:1123px;top:623px;width:31px;height:30px">...و</div>
<div class="c r1" style="left:1154px;top:623px;width:32px;height:27px"></div>
<div class="c r2" style="left:1186px;top:623px;width:27px;height:27px"></div>
<div class="c g4" style="left:1123px;top:653px;width:31px;height:31px">...ود</div>
<div class="c g4" style="left:1154px;top:650px;width:15px;height:34px"></div>
<div class="c r1" style="left:1169px;top:650px;width:31px;height:10px"></div>
<div class="c g4" style="left:1169px;top:660px;width:31px;height:24px"></div>
<div class="c r2" style="left:1200px;top:650px;width:13px;height:34px"></div>

<!-- Power -->
<div class="h" style="left:1217px;top:569px;width:96px;height:19px">عرضه برق، گاز ... [+]</div>
<div class="c g3 s" style="left:1217px;top:588px;width:62px;height:57px">بموتو<br>1.99%</div>
<div class="c g1" style="left:1217px;top:645px;width:62px;height:39px">بجهرم</div>
<div class="c r3" style="left:1279px;top:588px;width:34px;height:36px">...دما</div>
<div class="c g3" style="left:1279px;top:624px;width:34px;height:20px"></div>
<div class="c g4" style="left:1279px;top:644px;width:18px;height:20px"></div>
<div class="c r1" style="left:1297px;top:644px;width:16px;height:20px"></div>
<div class="c g3" style="left:1279px;top:664px;width:14px;height:20px"></div>
<div class="c r1" style="left:1293px;top:664px;width:10px;height:20px"></div>
<div class="c r1" style="left:1303px;top:664px;width:10px;height:20px"></div>
</body></html>
